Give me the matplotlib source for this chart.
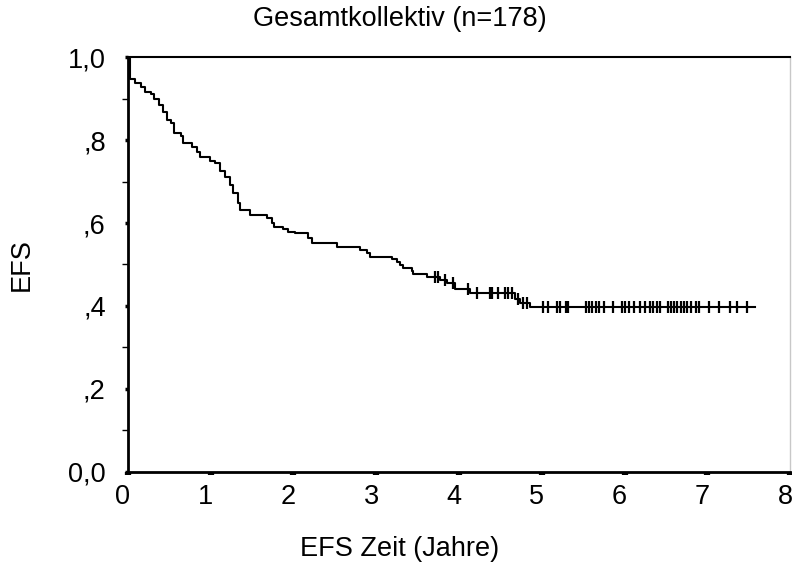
import numpy as np
import matplotlib
matplotlib.use("Agg")
from matplotlib import pyplot as plt
from matplotlib.ticker import FixedLocator
import matplotlib.transforms as mtransforms

plt.rcParams['font.family'] = ['Liberation Sans', 'DejaVu Sans']

title = "Gesamtkollektiv (n=178)"
xlabel = "EFS Zeit (Jahre)"
ylabel = "EFS"

# event times (years) and survival level after each step
event_times = [0.0, 0.02, 0.08, 0.16, 0.21, 0.28, 0.32, 0.38, 0.42, 0.47, 0.52, 0.55, 0.64, 0.66,
               0.77, 0.83, 0.87, 0.99, 1.05, 1.11, 1.17, 1.23, 1.27, 1.33, 1.35, 1.47, 1.68,
               1.74, 1.77, 1.87, 1.93, 2.02, 2.17, 2.22, 2.52, 2.80, 2.89, 2.92, 3.19, 3.25,
               3.29, 3.32, 3.43, 3.45, 3.61, 3.77, 3.86, 3.95, 4.13, 4.68, 4.74, 4.86]
surv = [1.0, 0.946, 0.937, 0.927, 0.916, 0.910, 0.900, 0.884, 0.868, 0.848, 0.840, 0.816, 0.810, 0.792,
        0.784, 0.772, 0.760, 0.750, 0.744, 0.726, 0.712, 0.692, 0.672, 0.648, 0.632, 0.620, 0.612,
        0.601, 0.591, 0.586, 0.579, 0.575, 0.564, 0.553, 0.543, 0.535, 0.527, 0.518, 0.513, 0.507,
        0.499, 0.491, 0.485, 0.477, 0.469, 0.463, 0.455, 0.441, 0.432, 0.417, 0.407, 0.397]
end_time = 7.58

# censored observations (years)
censor_times = [3.71, 3.75, 3.83, 3.93, 4.11, 4.22, 4.38, 4.40, 4.47, 4.56, 4.59, 4.64, 4.71, 4.77,
                4.82, 5.02, 5.07, 5.18, 5.22, 5.29, 5.32, 5.53, 5.57, 5.61, 5.65, 5.69, 5.75,
                5.86, 5.97, 6.01, 6.05, 6.11, 6.19, 6.25, 6.31, 6.35, 6.39, 6.43, 6.52, 6.56,
                6.60, 6.64, 6.68, 6.72, 6.76, 6.80, 6.86, 6.90, 7.02, 7.14, 7.28, 7.36, 7.48]

ytick_vals = [0.0, 0.2, 0.4, 0.6, 0.8, 1.0]
ytick_labels = ["0,0", ",2", ",4", ",6", ",8", "1,0"]
xtick_vals = [0, 1, 2, 3, 4, 5, 6, 7, 8]

fs = 19.5

fig = plt.figure(figsize=(7.92, 5.69), dpi=100)
ax = fig.add_axes([0.1616, 0.1705, 0.8359, 0.7293])

t = event_times + [end_time]
s = surv + [surv[-1]]
ax.step(t, s, where='post', color='black', lw=1.5)

idx = np.searchsorted(event_times, censor_times, side='right') - 1
cs = np.array(surv)[idx]
ax.plot(censor_times, cs, ls='none', marker='|', color='black', markersize=8.5, mew=1.6)

ax.set_xlim(0, 8)
ax.set_ylim(0, 1)

ax.xaxis.set_major_locator(FixedLocator(xtick_vals))
ax.set_xticklabels([str(v) for v in xtick_vals])
ax.yaxis.set_major_locator(FixedLocator(ytick_vals))
ax.set_yticklabels(ytick_labels)
ax.yaxis.set_minor_locator(FixedLocator([0.1, 0.3, 0.5, 0.7, 0.9]))

ax.tick_params(axis='x', which='major', direction='out', length=2.5, width=4.5, pad=6, labelsize=fs)
ax.tick_params(axis='y', which='major', direction='out', length=2, width=2.5, pad=14, labelsize=fs)
ax.tick_params(axis='y', which='minor', direction='out', length=4, width=1)

offset = mtransforms.ScaledTranslation(-0.05, 0, fig.dpi_scale_trans)
for lab in ax.get_xticklabels():
    lab.set_transform(lab.get_transform() + offset)

for side in ['left', 'bottom']:
    ax.spines[side].set_linewidth(2)
ax.spines['top'].set_linewidth(1.5)
ax.spines['right'].set_linewidth(1)
ax.spines['right'].set_color('#c8c8c8')

fig.text(0.505, 0.966, title, ha='center', va='center', fontsize=fs)
fig.text(0.505, 0.035, xlabel, ha='center', va='center', fontsize=fs)
fig.text(0.028, 0.535, ylabel, ha='center', va='center', rotation=90, fontsize=fs)

fig.savefig("out.png", dpi=100)
